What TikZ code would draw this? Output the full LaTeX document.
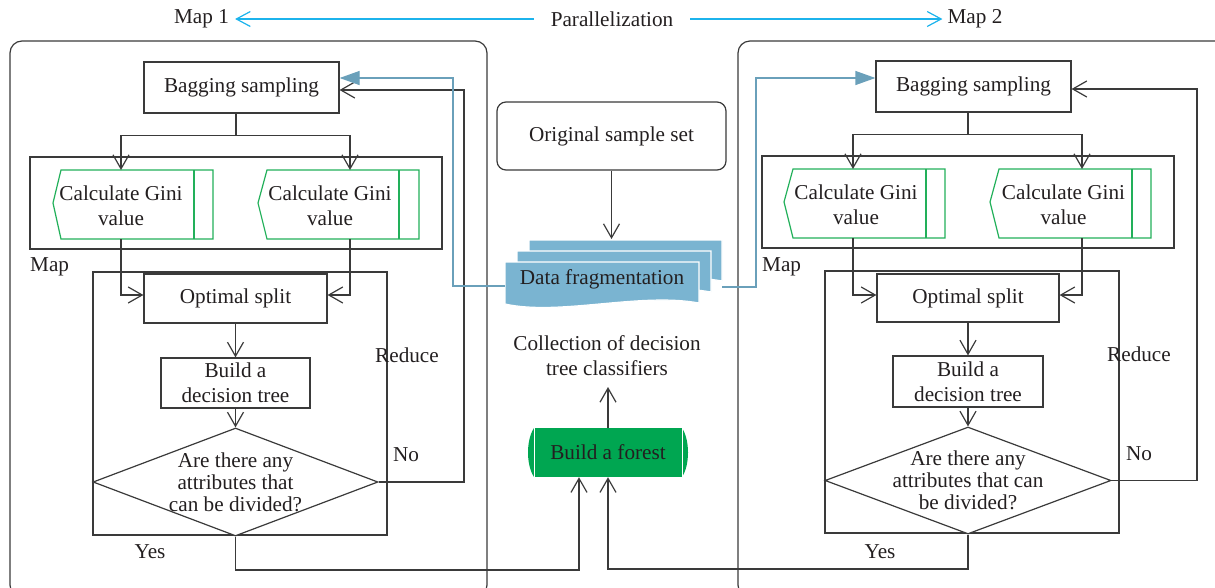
\documentclass[tikz,border=0pt]{standalone}
\usepackage{fontspec}
\setmainfont{Liberation Serif}
\usetikzlibrary{arrows.meta,calc,shapes.geometric}
\definecolor{lc}{HTML}{3A3A3A}
\definecolor{txt}{HTML}{231F20}
\definecolor{cyanarr}{HTML}{1CB3EC}
\definecolor{steel}{HTML}{6AA0BA}
\definecolor{fragc}{HTML}{7AB4D1}
\definecolor{ginig}{HTML}{22B05A}
\definecolor{forestg}{HTML}{00A651}
\tikzset{
  ln/.style={draw=lc, line width=1.2pt},
  arr/.style={ln, -{Straight Barb[length=14pt,width=16pt]}},
  box/.style={draw=lc, line width=1.2pt, fill=white, inner sep=0pt, align=center},
  dia/.style={draw=lc, line width=1.2pt, fill=white, shape=diamond, aspect=2.64, inner sep=-8pt, align=center, font=\fontsize{21.2}{22}\selectfont},
  barr/.style={draw=steel, line width=1.2pt, -{Triangle[length=20pt,width=14pt,fill=steel]}},
  carr/.style={draw=cyanarr, line width=1.2pt, -{Straight Barb[length=14pt,width=15pt]}},
  ginishape/.style={draw=ginig, line width=1.2pt, fill=white},
  sheet/.style={fill=fragc, draw=white, line width=1.2pt},
  lbl/.style={inner sep=0pt, align=center}
}
\begin{document}
\begin{tikzpicture}[x=1pt,y=-1pt, font=\fontsize{21.2}{25}\selectfont, text=txt]
\useasboundingbox (0,0) rectangle (1215,587);
\clip (0,0) rectangle (1215,587);

% top parallelization
\node[lbl] (map1) at (201.5,19) {Map 1};
\node[lbl] (par) at (612,19) {Parallelization};
\node[lbl] (map2) at (975,19) {Map 2};
\draw[carr] ([xshift=-17pt]par.west) -- ([xshift=6pt]map1.east);
\draw[carr] ([xshift=17pt]par.east) -- ([xshift=-5pt]map2.west);

% panels
\draw[ln, rounded corners=12pt] (10,41) rectangle (487,597);
\draw[ln, rounded corners=12pt] (738,41) rectangle (1235,597);

% ---------- left panel ----------
\draw[ln] (30,157) rectangle (442,249);
\draw[ln] (93,272) rectangle (387,535);
\node[lbl, anchor=west] (mapl1) at (30,267) {Map};
\node[lbl] (red1) at (407,355) {Reduce};
\node[lbl] (no1) at (406,455) {No};
\node[lbl] (yes1) at (150,552) {Yes};

\node[box, minimum width=195pt, minimum height=51pt] (bag1) at (241.5,87.5) {Bagging sampling};

\path[ginishape] (61,170) -- (213,170) -- (213,239) -- (61,239) -- (53,203) -- cycle;
\draw[draw=ginig, line width=1.2pt] (194,170) -- (194,239);
\path[ginishape] (267,170) -- (419,170) -- (419,239) -- (267,239) -- (258,203) -- cycle;
\draw[draw=ginig, line width=1.2pt] (399,170) -- (399,239);
\node[lbl] (g1) at (121,205.5) {Calculate Gini\\value};
\node[lbl] (g2) at (330,205.5) {Calculate Gini\\value};
\coordinate (g1t) at (121,170); \coordinate (g2t) at (350,170);
\coordinate (g1b) at (121,239); \coordinate (g2b) at (350,239);

\node[box, minimum width=183pt, minimum height=49pt] (opt1) at (235.5,298.5) {Optimal split};
\node[box, minimum width=149pt, minimum height=50pt] (tree1) at (235.5,383) {Build a\\decision tree};
\node[dia, minimum width=285pt, minimum height=108pt] (d1) at (235.5,482) {Are there any\\attributes that\\can be divided?};

\draw[arr] ([xshift=-5.5pt]bag1.south) -- ++(0,22) -| (g1t);
\draw[arr] ([xshift=-5.5pt]bag1.south) -- ++(0,22) -| (g2t);
\draw[arr] (g1b) |- (opt1.west |- 0,295);
\draw[arr] (g2b) |- (opt1.east |- 0,295);
\draw[arr] (opt1.south) -- (tree1.north);
\draw[arr] (tree1.south) -- (d1.north);
\draw[arr] (d1.east) -| (464,90) -- (bag1.east |- 0,90);

% ---------- right panel ----------
\draw[ln] (762,156) rectangle (1174,248);
\draw[ln] (825,271) rectangle (1119,533);
\node[lbl, anchor=west] (mapl2) at (762,267) {Map};
\node[lbl] (red2) at (1139,354) {Reduce};
\node[lbl] (no2) at (1139,454) {No};
\node[lbl] (yes2) at (880,552) {Yes};

\node[box, minimum width=195pt, minimum height=51pt] (bag2) at (973.5,86.5) {Bagging sampling};

\path[ginishape] (793,169) -- (945,169) -- (945,238) -- (793,238) -- (784,202) -- cycle;
\draw[draw=ginig, line width=1.2pt] (926,169) -- (926,238);
\path[ginishape] (999,169) -- (1151,169) -- (1151,238) -- (999,238) -- (990,202) -- cycle;
\draw[draw=ginig, line width=1.2pt] (1132,169) -- (1132,238);
\node[lbl] (g3) at (856,204.5) {Calculate Gini\\value};
\node[lbl] (g4) at (1063.5,204.5) {Calculate Gini\\value};
\coordinate (g3t) at (853,169); \coordinate (g4t) at (1082,169);
\coordinate (g3b) at (853,238); \coordinate (g4b) at (1082,238);

\node[box, minimum width=182pt, minimum height=48pt] (opt2) at (968,298) {Optimal split};
\node[box, minimum width=150pt, minimum height=51pt] (tree2) at (968,381.5) {Build a\\decision tree};
\node[dia, minimum width=286pt, minimum height=107pt] (d2) at (968,480.5) {Are there any\\attributes that can\\be divided?};

\draw[arr] ([xshift=-5.5pt]bag2.south) -- ++(0,22) -| (g3t);
\draw[arr] ([xshift=-5.5pt]bag2.south) -- ++(0,22) -| (g4t);
\draw[arr] (g3b) |- (opt2.west |- 0,295);
\draw[arr] (g4b) |- (opt2.east |- 0,295);
\draw[arr] (opt2.south) -- (tree2.north);
\draw[arr] (tree2.south) -- (d2.north);
\draw[arr] (d2.east) -| (1197,89) -- (bag2.east |- 0,89);

% ---------- middle ----------
\node[box, rounded corners=9pt, minimum width=229pt, minimum height=68pt] (orig) at (611.5,136) {Original sample set};

\path[sheet] (529,240) -- (722,240) -- (722,281) .. controls (663,270) and (584,294) .. (529,282) -- cycle;
\path[sheet] (517,251) -- (711,251) -- (711,292) .. controls (652,281) and (572,305) .. (517,293) -- cycle;
\path[sheet] (505,262) -- (699,262) -- (699,303) .. controls (640,292) and (560,316) .. (505,304) -- cycle;
\node[lbl, minimum width=194pt] (frag) at (602,279) {Data fragmentation};
\coordinate (fragL) at (505,286);
\coordinate (fragR) at (722,287);

\draw[arr] (orig.south) -- (orig.south |- 0,239);

\draw[barr] (fragL) -| (453,78) -- (bag1.east |- 0,78);
\draw[barr] (fragR) -| (756,78) -- (bag2.west |- 0,78);

\node[lbl] (coll) at (607,356) {Collection of decision\\tree classifiers};

\fill[forestg] (534,428) .. controls (526,440) and (526,465) .. (534,477) -- cycle;
\fill[forestg] (682,428) .. controls (690,440) and (690,465) .. (682,477) -- cycle;
\node[fill=forestg, minimum width=148pt, minimum height=49pt, inner sep=0pt] (forest) at (608,452.5) {Build a forest};
\draw[white, line width=0.8pt] (534,428) -- (534,477);
\draw[white, line width=0.8pt] (682,428) -- (682,477);

\draw[arr] (forest.north) -- (forest.north |- 0,387);
\draw[arr] (d1.south) |- (579,570) -- (forest.south -| 579,0);
\draw[arr] (d2.south) |- (forest.south |- 0,569) -- (forest.south);
\end{tikzpicture}
\end{document}
